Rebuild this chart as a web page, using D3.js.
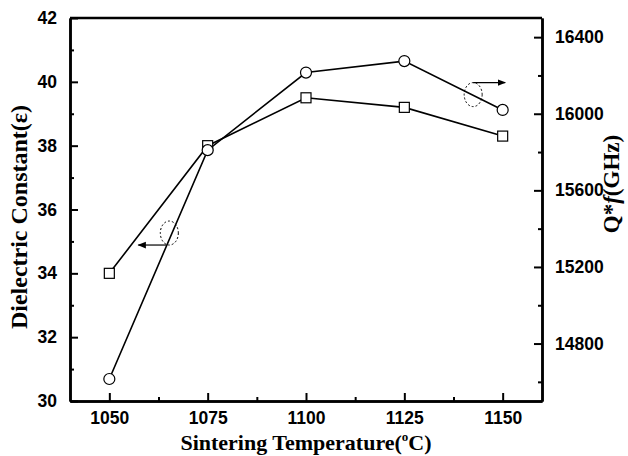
<!DOCTYPE html>
<html>
<head>
<meta charset="utf-8">
<script src="https://cdn.jsdelivr.net/npm/d3@7"></script>
<style>
  body { margin: 0; background: #fff; }
  .tick text { font-family: Arial, "Liberation Sans", sans-serif; font-weight: bold; font-size: 17.5px; fill: #000; }
  .title { font-family: "Liberation Serif", "Times New Roman", serif; font-weight: bold; fill: #000; }
</style>
</head>
<body>
<div id="chart"></div>
<script>
// data
const temps = [1050, 1075, 1100, 1125, 1150];
const dielectric = [34.0, 38.0, 39.5, 39.2, 38.3];
const qf = [14615, 15810, 16215, 16275, 16020];
const xTicks = [1050, 1075, 1100, 1125, 1150];
const leftTicks = [30, 32, 34, 36, 38, 40, 42];
const rightTicks = [14800, 15200, 15600, 16000, 16400];

const W = 628, H = 456;
const margin = {top: 18, right: 86, bottom: 55, left: 70};
const width = W - margin.left - margin.right;
const height = H - margin.top - margin.bottom;

const svg = d3.select("#chart").append("svg")
    .attr("width", W).attr("height", H);
const g = svg.append("g")
    .attr("transform", `translate(${margin.left},${margin.top})`);

const x = d3.scaleLinear().domain([1040, 1160]).range([0, width]);
const yL = d3.scaleLinear().domain([30, 42]).range([height, 0]);
const yR = d3.scaleLinear().domain([14500, 16500]).range([height, 0]);

// minor ticks first
function minor(axis) {
    return axis.tickFormat("").tickSizeInner(-4).tickSizeOuter(0);
}
g.append("g").attr("transform", `translate(0,${height})`)
    .call(minor(d3.axisBottom(x).tickValues(d3.range(1062.5, 1160, 25))));
g.append("g")
    .call(minor(d3.axisLeft(yL).tickValues(d3.range(31, 42, 2))));
g.append("g").attr("transform", `translate(${width},0)`)
    .call(minor(d3.axisRight(yR).tickValues(d3.range(14600, 16500, 400))));

// major axes
g.append("g").attr("transform", `translate(0,${height})`)
    .call(d3.axisBottom(x).tickValues(xTicks).tickFormat(d3.format("d")).tickSizeInner(-8).tickSizeOuter(0).tickPadding(11));
g.append("g")
    .call(d3.axisLeft(yL).tickValues(leftTicks).tickSizeInner(-8).tickSizeOuter(0).tickPadding(13));
g.append("g").attr("transform", `translate(${width},0)`)
    .call(d3.axisRight(yR).tickValues(rightTicks).tickFormat(d3.format("d")).tickSizeInner(-8).tickSizeOuter(0).tickPadding(13));

g.selectAll(".domain").attr("stroke", "#000").attr("stroke-width", 2.5);
g.selectAll(".tick line").attr("stroke", "#000").attr("stroke-width", 2);

// top frame
g.append("line").attr("x1", 0).attr("x2", width).attr("y1", 0).attr("y2", 0)
    .attr("stroke", "#000").attr("stroke-width", 2.5);

// lines
const lineL = d3.line().x((d, i) => x(temps[i])).y(d => yL(d));
const lineR = d3.line().x((d, i) => x(temps[i])).y(d => yR(d));

g.append("path").datum(dielectric).attr("d", lineL)
    .attr("fill", "none").attr("stroke", "#000").attr("stroke-width", 1.6);
g.append("path").datum(qf).attr("d", lineR)
    .attr("fill", "none").attr("stroke", "#000").attr("stroke-width", 1.6);

g.selectAll(".sq").data(dielectric).enter().append("rect")
    .attr("x", (d, i) => x(temps[i]) - 5)
    .attr("y", d => yL(d) - 5)
    .attr("width", 10).attr("height", 10)
    .attr("fill", "#fff").attr("stroke", "#000").attr("stroke-width", 1.2);

g.selectAll(".ci").data(qf).enter().append("circle")
    .attr("cx", (d, i) => x(temps[i]))
    .attr("cy", d => yR(d))
    .attr("r", 5.5)
    .attr("fill", "#fff").attr("stroke", "#000").attr("stroke-width", 1.2);

// annotations: dashed ellipses with arrows
svg.append("defs").append("marker")
    .attr("id", "arr").attr("viewBox", "0 0 10 10").attr("refX", 9).attr("refY", 5)
    .attr("markerWidth", 7).attr("markerHeight", 7).attr("orient", "auto")
    .append("path").attr("d", "M0,1L10,5L0,9Z").attr("fill", "#000");

const annL = {x: 1065, y: 35.2};
g.append("ellipse").attr("cx", x(annL.x) + 1).attr("cy", yL(annL.y) - 2)
    .attr("rx", 9).attr("ry", 12)
    .attr("fill", "none").attr("stroke", "#000").attr("stroke-width", 1).attr("stroke-dasharray", "2,2");
g.append("line").attr("x1", x(annL.x) - 2).attr("x2", x(annL.x) - 30)
    .attr("y1", yL(annL.y) + 10).attr("y2", yL(annL.y) + 10)
    .attr("stroke", "#000").attr("stroke-width", 1.2).attr("marker-end", "url(#arr)");

const annR = {x: 1142.5, y: 16100};
g.append("ellipse").attr("cx", x(annR.x)).attr("cy", yR(annR.y))
    .attr("rx", 9).attr("ry", 12)
    .attr("fill", "none").attr("stroke", "#000").attr("stroke-width", 1).attr("stroke-dasharray", "2,2");
g.append("line").attr("x1", x(annR.x)).attr("x2", x(annR.x) + 32)
    .attr("y1", yR(annR.y) - 12).attr("y2", yR(annR.y) - 12)
    .attr("stroke", "#000").attr("stroke-width", 1.2).attr("marker-end", "url(#arr)");

// axis titles
const xt = svg.append("text").attr("class", "title").attr("font-size", 22)
    .attr("x", 306).attr("y", 450)
    .attr("text-anchor", "middle");
xt.append("tspan").text("Sintering Temperature(");
xt.append("tspan").attr("dy", -9).attr("font-size", 13).text("o");
xt.append("tspan").attr("dy", 9).text("C)");

svg.append("text").attr("class", "title").attr("font-size", 24)
    .attr("transform", `translate(27,217) rotate(-90)`)
    .attr("text-anchor", "middle")
    .text("Dielectric Constant(ε)");

const rt = svg.append("text").attr("class", "title").attr("font-size", 23)
    .attr("transform", `translate(619,184) rotate(-90)`)
    .attr("text-anchor", "middle");
rt.append("tspan").text("Q*");
rt.append("tspan").attr("font-style", "italic").text("f");
rt.append("tspan").text("(GHz)");
</script>
</body>
</html>
